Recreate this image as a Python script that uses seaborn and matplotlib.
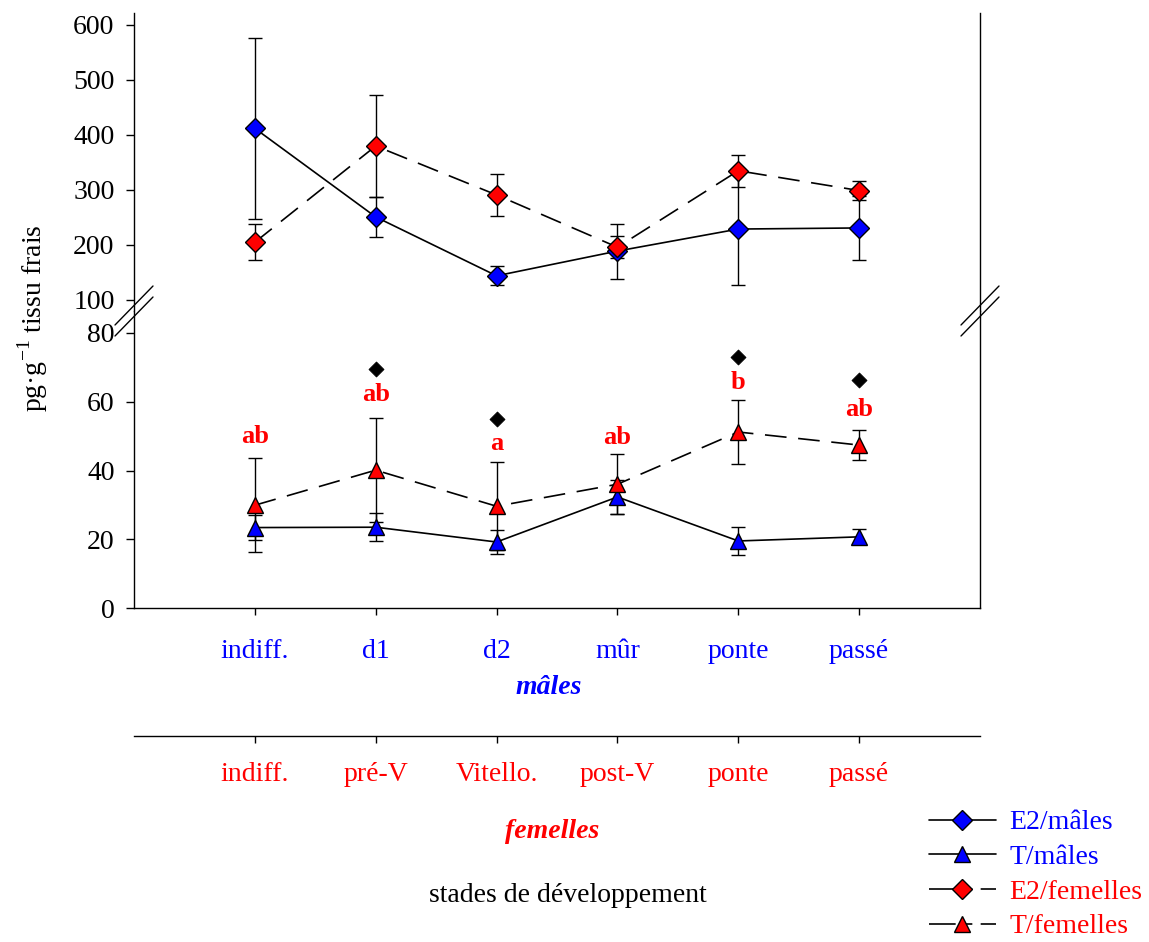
import numpy as np
import pandas as pd
import seaborn as sns
import matplotlib.pyplot as plt
from matplotlib.lines import Line2D

# stades de developpement
stades_males = ["indiff.", "d1", "d2", "mûr", "ponte", "passé"]
stades_femelles = ["indiff.", "pré-V", "Vitello.", "post-V", "ponte", "passé"]

# E2 (pg/g tissu frais) - partie haute
e2_males = [412, 251, 144, 189, 229, 231]
e2_males_err = [165, 37, 17, 50, 102, 58]
e2_femelles = [205, 380, 291, 196, 335, 299]
e2_femelles_err = [33, 92, 38, 20, 29, 18]

# T (pg/g tissu frais) - partie basse
t_males = [23.4, 23.5, 19.2, 32.3, 19.5, 20.7]
t_males_err = [3.7, 4.1, 3.5, 5.0, 4.2, 2.2]
t_femelles = [29.9, 40.1, 29.6, 36.0, 51.2, 47.4]
t_femelles_err = [13.6, 15.2, 12.8, 8.7, 9.2, 4.3]

# lettres de significativite (T/femelles) et losanges noirs
lettres = ["ab", "ab", "a", "ab", "b", "ab"]
lettres_y = [50, 62, 48, 49.6, 65.5, 57.6]
diamants_stade = [1, 2, 4, 5]
diamants_y = [69.4, 54.9, 73.1, 66.3]

sns.set_style("ticks")
plt.rcParams["font.family"] = ["Liberation Serif", "DejaVu Serif"]
plt.rcParams["mathtext.fontset"] = "custom"
plt.rcParams["mathtext.rm"] = "Liberation Serif"
plt.rcParams["axes.linewidth"] = 1.0
for k in ("text.color", "axes.edgecolor", "xtick.color", "ytick.color", "axes.labelcolor"):
    plt.rcParams[k] = "black"

W, H = 1149, 942
fig = plt.figure(figsize=(W / 100, H / 100), dpi=100)


def fbox(x0, y0, x1, y1):
    # pixel box (y down) -> figure fraction
    return [x0 / W, 1 - y1 / H, (x1 - x0) / W, (y1 - y0) / H]


ax_top = fig.add_axes(fbox(134, 13, 980, 311))
ax_bot = fig.add_axes(fbox(134, 311, 980, 608))

df = pd.DataFrame({
    "pos": np.arange(len(stades_males)),
    "e2_m": e2_males, "e2_m_err": e2_males_err,
    "e2_f": e2_femelles, "e2_f_err": e2_femelles_err,
    "t_m": t_males, "t_m_err": t_males_err,
    "t_f": t_femelles, "t_f_err": t_femelles_err,
})

solid = "-"
dashed = (0, (13, 7))
series = [
    (ax_top, "e2_m", "D", "blue", solid, 10, 3),
    (ax_top, "e2_f", "D", "red", dashed, 10, 4),
    (ax_bot, "t_m", "^", "blue", solid, 11.5, 3),
    (ax_bot, "t_f", "^", "red", dashed, 11.5, 4),
]

for ax, col, mk, c, ls, ms, z in series:
    ax.errorbar(df["pos"], df[col], yerr=df[col + "_err"], fmt="none",
                ecolor="black", elinewidth=1, capsize=5, capthick=1, zorder=2)
    sns.lineplot(data=df, x="pos", y=col, ax=ax, color="black", lw=1.2,
                 linestyle=ls, marker=mk, markersize=ms, markerfacecolor=c,
                 markeredgecolor="black", markeredgewidth=1, zorder=z)

sns.scatterplot(x=diamants_stade, y=diamants_y, ax=ax_bot, marker="D", s=58,
                color="black", edgecolor="black", zorder=5)
for i, (lab, yy) in enumerate(zip(lettres, lettres_y)):
    ax_bot.text(i, yy, lab, color="red", fontweight="bold", fontsize=19,
                ha="center", va="center")

for ax in (ax_top, ax_bot):
    ax.set_xlim(-1, 6)
    ax.set_xlabel("")
    ax.set_ylabel("")
    ax.spines["top"].set_visible(False)
    ax.tick_params(axis="y", direction="out", length=6, width=1, labelsize=20, pad=8)
    if ax.get_legend():
        ax.get_legend().remove()

ax_top.set_ylim(80, 621.8)
ax_top.set_yticks([100, 200, 300, 400, 500, 600])
ax_top.spines["bottom"].set_visible(False)
ax_top.tick_params(axis="x", bottom=False, labelbottom=False)

ax_bot.set_ylim(0, 86.4)
ax_bot.set_yticks([0, 20, 40, 60, 80])
ax_bot.set_xticks(df["pos"])
ax_bot.set_xticklabels(stades_males, color="blue")
ax_bot.tick_params(axis="x", direction="out", length=5, width=1, labelsize=20, pad=17)

# second axe: femelles
ax_f = fig.add_axes(fbox(134, 735, 980, 736))
ax_f.set_xlim(-1, 6)
ax_f.set_ylim(0, 1)
ax_f.patch.set_alpha(0)
for s in ("top", "left", "right"):
    ax_f.spines[s].set_visible(False)
ax_f.set_yticks([])
ax_f.set_xticks(df["pos"])
ax_f.set_xticklabels(stades_femelles, color="red")
ax_f.tick_params(axis="x", direction="out", length=5, width=1, labelsize=20, pad=14)

# marques de coupure
for sx in (134, 980):
    for dy in (-5.5, 5.5):
        xs = [(sx - 19) / W, (sx + 19) / W]
        ys = [1 - (311 + dy + 19.5) / H, 1 - (311 + dy - 19.5) / H]
        fig.add_artist(Line2D(xs, ys, transform=fig.transFigure, color="black", lw=1))

fig.text(33 / W, 1 - 318 / H, r"pg·g$^{\mathregular{-1}}$ tissu frais", rotation=90,
         ha="center", va="center", fontsize=20)
fig.text(549 / W, 1 - 688 / H, "mâles", color="blue", fontsize=20,
         fontweight="bold", fontstyle="italic", ha="center", va="center")
fig.text(552 / W, 1 - 831 / H, "femelles", color="red", fontsize=20,
         fontweight="bold", fontstyle="italic", ha="center", va="center")
fig.text(568 / W, 1 - 895 / H, "stades de développement", color="black",
         fontsize=20, ha="center", va="center")

handles = [
    Line2D([], [], color="black", lw=1.2, linestyle=solid, marker="D", markersize=10,
           markerfacecolor="blue", markeredgecolor="black"),
    Line2D([], [], color="black", lw=1.2, linestyle=solid, marker="^", markersize=11.5,
           markerfacecolor="blue", markeredgecolor="black"),
    Line2D([], [], color="black", lw=1.2, linestyle=(0, (16, 5, 5, 5)), marker="D", markersize=10,
           markerfacecolor="red", markeredgecolor="black"),
    Line2D([], [], color="black", lw=1.2, linestyle=(0, (16, 5, 5, 5)), marker="^", markersize=11.5,
           markerfacecolor="red", markeredgecolor="black"),
]
labels = ["E2/mâles", "T/mâles", "E2/femelles", "T/femelles"]
leg = fig.legend(handles, labels, loc="upper left", bbox_to_anchor=(929 / W, 1 - 810 / H),
                 frameon=False, fontsize=20, handlelength=2.4, handletextpad=0.5,
                 labelspacing=0.33, borderpad=0, borderaxespad=0)
for t, c in zip(leg.get_texts(), ["blue", "blue", "red", "red"]):
    t.set_color(c)

fig.savefig("out.png", dpi=100)
